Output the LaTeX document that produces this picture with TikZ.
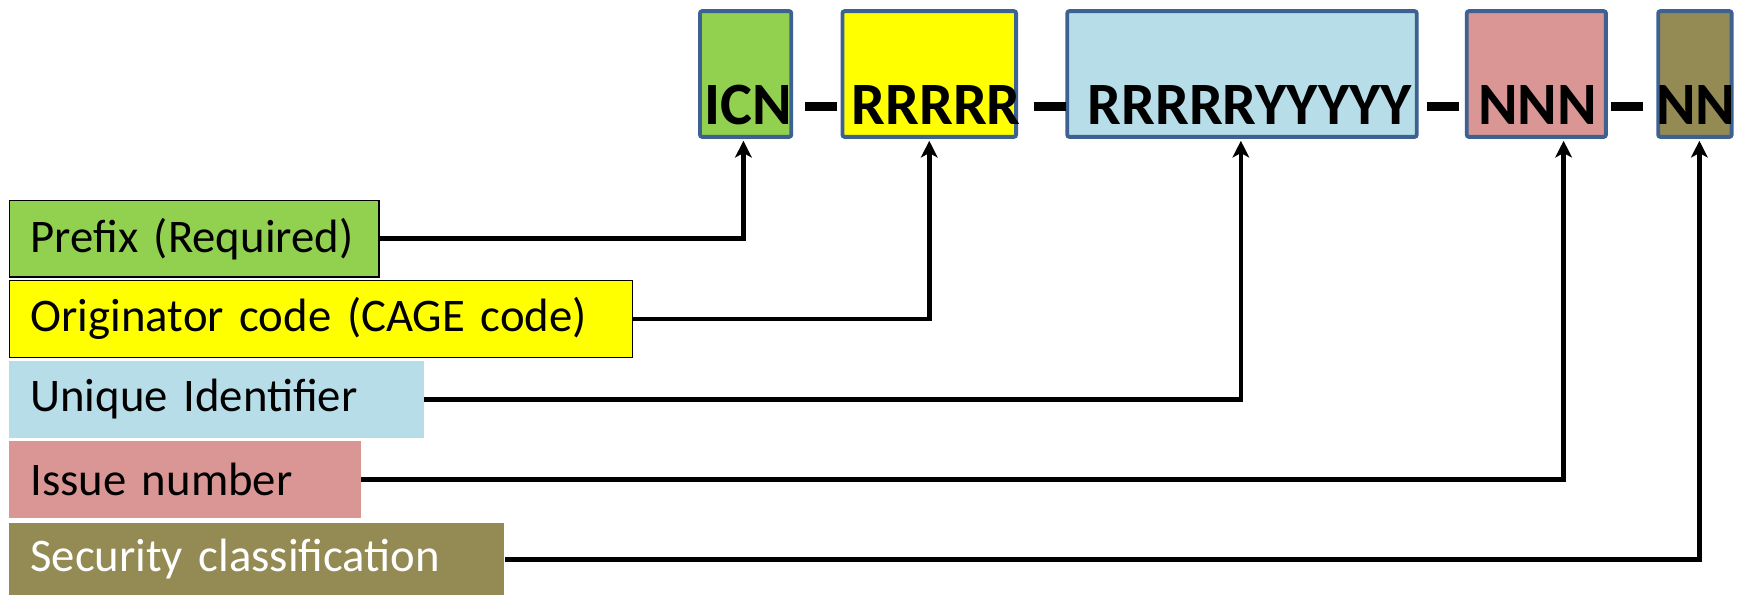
\documentclass[tikz,border=0pt]{standalone}
\usepackage{fontspec}
\setmainfont{Carlito}
\usetikzlibrary{arrows.meta,calc}
\definecolor{cgreen}{HTML}{92D050}
\definecolor{cyellow}{HTML}{FFFF00}
\definecolor{cblue}{HTML}{B7DEE8}
\definecolor{cpink}{HTML}{D99694}
\definecolor{colive}{HTML}{948A54}
\definecolor{cborder}{HTML}{3D6291}
\newcommand{\codedash}{\rule[12pt]{29pt}{8pt}}
\begin{document}
\begin{tikzpicture}[x=1pt,y=-1pt,
  codebox/.style={draw=cborder, line width=3.5pt, rounded corners=2pt, inner sep=0pt, minimum height=113pt},
  codetxt/.style={font=\fontsize{54}{54}\selectfont\bfseries, inner sep=0pt, anchor=base west},
  lbl/.style={anchor=west, inner xsep=19pt, inner ysep=0pt, minimum height=69pt, align=left, font=\fontsize{42}{42}\selectfont},
  conn/.style={line width=4.2pt, -{Stealth[length=15pt,width=15pt,inset=4pt]}}]
\useasboundingbox (0,0) rectangle (1568,536.4);
% top code boxes
\node[codebox, fill=cgreen, minimum width=82pt] (icn) at (670,66.5) {};
\node[codebox, fill=cyellow, minimum width=156pt] (orig) at (835,66.5) {};
\node[codebox, fill=cblue, minimum width=314pt] (uid) at (1116,66.5) {};
\node[codebox, fill=cpink, minimum width=125pt] (nnn) at (1380.5,66.5) {};
\node[codebox, fill=colive, minimum width=66pt] (nn) at (1523,66.5) {};
% code texts
\node[codetxt] (ticn) at (633,112) {ICN};
\node[codetxt] (d1) at (723,112) {\codedash};
\node[codetxt] (torig) at (765,112) {RRRRR};
\node[codetxt] (d2) at (929,112) {\codedash};
\node[codetxt] (tuid) at (977,112) {RRRRRYYYYY};
\node[codetxt] (d3) at (1282,112) {\codedash};
\node[codetxt] (tnnn) at (1328,112) {NNN};
\node[codetxt] (d4) at (1447,112) {\codedash};
\node[codetxt] (tnn) at (1488,112) {NN};
% labels
\node[lbl, fill=cgreen, draw=black, line width=1.2pt, text width=294pt] (lprefix) at (8,214.5) {Prefix (Required)};
\node[lbl, fill=cyellow, draw=black, line width=1.2pt, text width=522pt] (lorig) at (8,286.5) {Originator code (CAGE code)};
\node[lbl, fill=cblue, text width=335pt] (luid) at (8,359) {Unique Identifier};
\node[lbl, fill=cpink, text width=278pt] (liss) at (8,431) {Issue number};
\node[lbl, fill=colive, text=white, text width=407pt, minimum height=65pt] (lsec) at (8,502.5) {Security classification};
% connectors
\coordinate (aicn) at ($(icn.south)+(-2,1.75)$);
\coordinate (aorig) at ($(orig.south)+(0,1.75)$);
\coordinate (auid) at ($(uid.south)+(-1,1.75)$);
\coordinate (annn) at ($(nnn.south)+(24.5,1.75)$);
\coordinate (ann) at ($(nn.south)+(4,1.75)$);
\draw[conn] (lprefix.east) -| (aicn);
\draw[conn] (lorig.east) -| (aorig);
\draw[conn] (luid.east) -| (auid);
\draw[conn] (liss.east) -| (annn);
\draw[conn] (lsec.east) -| (ann);
\end{tikzpicture}
\end{document}
